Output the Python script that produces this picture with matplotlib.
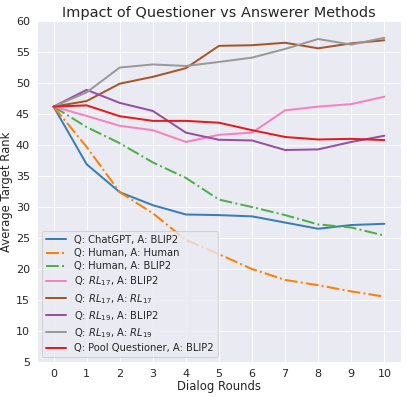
import numpy as np
import matplotlib
matplotlib.use("Agg")
import matplotlib.pyplot as plt
import seaborn as sns

sns.set_style("darkgrid")

rounds = list(range(11))

chatgpt_blip2 = [46.2, 36.9, 32.4, 30.3, 28.8, 28.7, 28.5, 27.5, 26.5, 27.1, 27.3]
human_human = [46.2, 39.7, 32.4, 29.0, 24.7, 22.4, 20.0, 18.25, 17.4, 16.4, 15.55]
human_blip2 = [46.2, 42.9, 40.3, 37.2, 34.7, 31.2, 30.0, 28.7, 27.2, 26.7, 25.4]
rl17_blip2 = [46.2, 44.7, 43.1, 42.4, 40.5, 41.65, 42.0, 45.6, 46.2, 46.6, 47.8]
rl17_rl17 = [46.2, 47.1, 49.9, 51.0, 52.4, 56.0, 56.1, 56.5, 55.6, 56.4, 56.9]
rl19_blip2 = [46.2, 48.9, 46.8, 45.5, 42.0, 40.85, 40.74, 39.2, 39.3, 40.5, 41.5]
rl19_rl19 = [46.2, 48.5, 52.5, 53.0, 52.75, 53.4, 54.1, 55.5, 57.1, 56.2, 57.3]
pool_blip2 = [46.2, 46.4, 44.65, 43.9, 43.9, 43.6, 42.4, 41.3, 40.9, 41.0, 40.8]

series = [
    (chatgpt_blip2, "Q: ChatGPT, A: BLIP2", "#377eb8", "-"),
    (human_human, "Q: Human, A: Human", "#ff7f00", "-."),
    (human_blip2, "Q: Human, A: BLIP2", "#4daf4a", "-."),
    (rl17_blip2, "Q: $RL_{17}$, A: BLIP2", "#f781bf", "-"),
    (rl17_rl17, "Q: $RL_{17}$, A: $RL_{17}$", "#a65628", "-"),
    (rl19_blip2, "Q: $RL_{19}$, A: BLIP2", "#984ea3", "-"),
    (rl19_rl19, "Q: $RL_{19}$, A: $RL_{19}$", "#999999", "-"),
    (pool_blip2, "Q: Pool Questioner, A: BLIP2", "#e41a1c", "-"),
]

fig, ax = plt.subplots(figsize=(407 / 80, 397 / 80), dpi=80)
for vals, name, col, ls in series:
    ax.plot(rounds, vals, color=col, linestyle=ls, linewidth=1.8, label=name)

ax.set_title("Impact of Questioner vs Answerer Methods", fontsize=13, pad=4)
ax.set_xlabel("Dialog Rounds", fontsize=10.5, labelpad=1)
ax.set_ylabel("Average Target Rank", fontsize=10.5, labelpad=2)
ax.set_xticks(rounds)
ax.set_yticks(range(5, 61, 5))
ax.set_ylim(5, 60)
ax.tick_params(labelsize=10, pad=3)
ax.legend(loc="lower left", fontsize=9, labelspacing=0.33)

plt.subplots_adjust(left=0.091, right=0.985, top=0.947, bottom=0.088)
plt.savefig("out.png", dpi=80)
